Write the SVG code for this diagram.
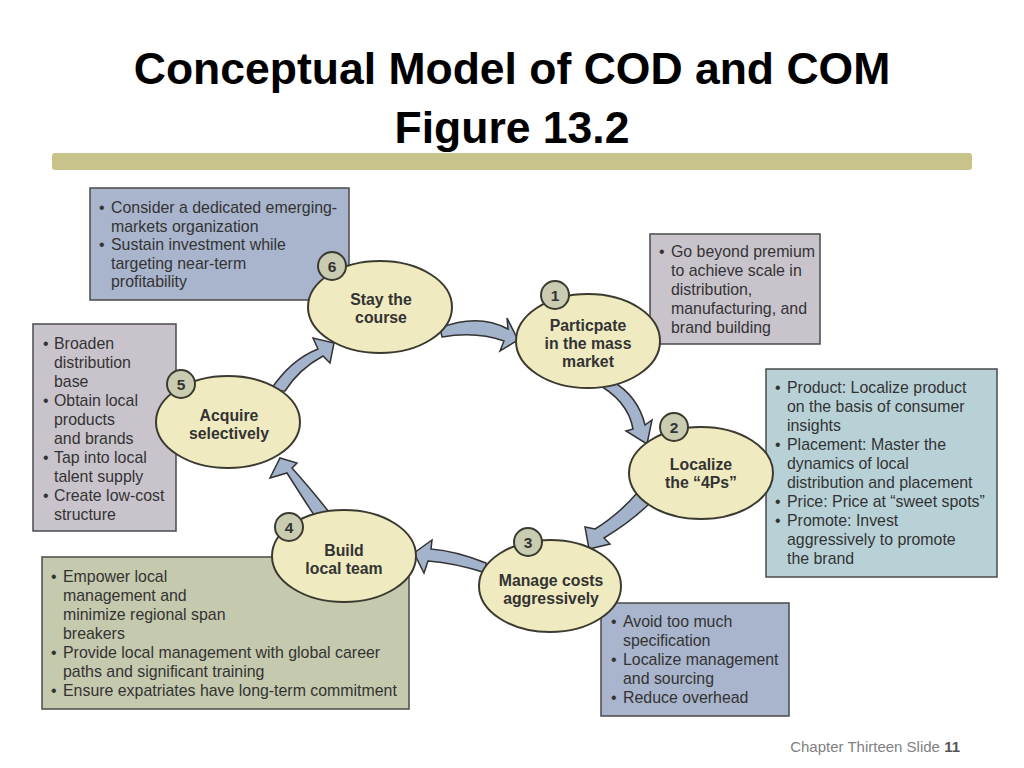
<svg xmlns="http://www.w3.org/2000/svg" width="1024" height="768" viewBox="0 0 1024 768">
<style>
.title{font-family:"Liberation Sans",Arial,sans-serif;font-weight:bold;font-size:44.5px;fill:#000;text-anchor:middle}
.box{stroke:#4a4a4a;stroke-width:1.5}
.b-blue{fill:#a9b5cc}
.b-mauve{fill:#c9c4cc}
.b-teal{fill:#b8d1d7}
.b-olive{fill:#c5c9ae}
.bt{font-family:"Liberation Sans",Arial,sans-serif;font-size:15.9px;fill:#333}
.ell{fill:#efeabf;stroke:#3a3a30;stroke-width:2}
.badge{fill:#c9ccb0;stroke:#3a3a30;stroke-width:2}
.num{font-family:"Liberation Sans",Arial,sans-serif;font-weight:bold;font-size:15.5px;fill:#333;text-anchor:middle}
.et{font-family:"Liberation Sans",Arial,sans-serif;font-weight:bold;font-size:15.8px;fill:#333;text-anchor:middle}
.arr{fill:#a3b3cc;stroke:#333;stroke-width:1.5;stroke-linejoin:miter}
.foot{font-family:"Liberation Sans",Arial,sans-serif;font-size:15px;fill:#7f7f7f}
</style>
<rect width="1024" height="768" fill="#fff"/>
<g id="title">
<text class="title" x="512" y="84">Conceptual Model of COD and COM</text>
<text class="title" x="512" y="143">Figure 13.2</text>
<rect x="52" y="153" width="920" height="17" rx="3" fill="#c7c38b"/>
</g>
<g id="connectors">
<path class="arr" d="M 440 328 Q 478 313 508 329 L 507 318 L 518 340 L 500 351 L 504 341 Q 476 331 442 337 Z"/>
<path class="arr" d="M 594 382 Q 628 400 633 429 L 626 431 L 647 444 L 652 420 L 645 425 Q 638 396 612 381 Z"/>
<path class="arr" d="M 638 492 Q 618 515 595 529 L 585 527 L 589 549 L 610 544 L 604 538 Q 632 521 651 502 Z"/>
<path class="arr" d="M 486 563 Q 456 551 431 549 L 432 540 L 414 553 L 424 573 L 428 561 Q 455 563 486 573 Z"/>
<path class="arr" d="M 314 515 Q 299 492 287 473 L 270 478 L 280 458 L 297 463 L 292 468 Q 310 488 329 512 Z"/>
<path class="arr" d="M 270 391 Q 290 360 318 349 L 313 338 L 334 343 L 330 363 L 323 356 Q 299 369 285 391 Z"/>
</g>
<g id="node6">
<rect class="box b-blue" x="90" y="188" width="259" height="112"/>
<text class="bt" x="99" y="213">•</text><text class="bt" x="111" y="213">Consider a dedicated emerging-</text>
<text class="bt" x="111" y="231.6">markets organization</text>
<text class="bt" x="99" y="250.2">•</text><text class="bt" x="111" y="250.2">Sustain investment while</text>
<text class="bt" x="111" y="268.8">targeting near-term</text>
<text class="bt" x="111" y="287.4">profitability</text>
<ellipse class="ell" cx="380" cy="307" rx="72" ry="46"/>
<circle class="badge" cx="332" cy="266" r="14"/>
<text class="num" x="332" y="271.5">6</text>
<text class="et" x="381" y="305">Stay the</text>
<text class="et" x="381" y="323">course</text>
</g>
<g id="node1">
<rect class="box b-mauve" x="650" y="234" width="170" height="110"/>
<text class="bt" x="659" y="257">•</text><text class="bt" x="671" y="257">Go beyond premium</text>
<text class="bt" x="671" y="276">to achieve scale in</text>
<text class="bt" x="671" y="295">distribution,</text>
<text class="bt" x="671" y="314">manufacturing, and</text>
<text class="bt" x="671" y="333">brand building</text>
<ellipse class="ell" cx="588" cy="341" rx="72" ry="47"/>
<circle class="badge" cx="555" cy="295" r="14"/>
<text class="num" x="555" y="300.5">1</text>
<text class="et" x="588" y="331">Particpate</text>
<text class="et" x="588" y="349">in the mass</text>
<text class="et" x="588" y="367">market</text>
</g>
<g id="node2">
<rect class="box b-teal" x="766" y="369" width="231" height="208"/>
<text class="bt" x="775" y="393">•</text><text class="bt" x="787" y="393">Product: Localize product</text>
<text class="bt" x="787" y="412">on the basis of consumer</text>
<text class="bt" x="787" y="431">insights</text>
<text class="bt" x="775" y="450">•</text><text class="bt" x="787" y="450">Placement: Master the</text>
<text class="bt" x="787" y="469">dynamics of local</text>
<text class="bt" x="787" y="488">distribution and placement</text>
<text class="bt" x="775" y="507">•</text><text class="bt" x="787" y="507">Price: Price at “sweet spots”</text>
<text class="bt" x="775" y="526">•</text><text class="bt" x="787" y="526">Promote: Invest</text>
<text class="bt" x="787" y="545">aggressively to promote</text>
<text class="bt" x="787" y="564">the brand</text>
<ellipse class="ell" cx="701" cy="473" rx="72" ry="46"/>
<circle class="badge" cx="674" cy="427" r="14"/>
<text class="num" x="674" y="432.5">2</text>
<text class="et" x="701" y="470">Localize</text>
<text class="et" x="701" y="488">the “4Ps”</text>
</g>
<g id="node3">
<rect class="box b-blue" x="601" y="603" width="188" height="113"/>
<text class="bt" x="611" y="627">•</text><text class="bt" x="623" y="627">Avoid too much</text>
<text class="bt" x="623" y="646">specification</text>
<text class="bt" x="611" y="665">•</text><text class="bt" x="623" y="665">Localize management</text>
<text class="bt" x="623" y="684">and sourcing</text>
<text class="bt" x="611" y="703">•</text><text class="bt" x="623" y="703">Reduce overhead</text>
<ellipse class="ell" cx="550" cy="586" rx="71" ry="46"/>
<circle class="badge" cx="528" cy="542" r="14"/>
<text class="num" x="528" y="547.5">3</text>
<text class="et" x="551" y="586">Manage costs</text>
<text class="et" x="551" y="604">aggressively</text>
</g>
<g id="node4">
<rect class="box b-olive" x="42" y="557" width="367" height="152"/>
<text class="bt" x="51" y="582">•</text><text class="bt" x="63" y="582">Empower local</text>
<text class="bt" x="63" y="601">management and</text>
<text class="bt" x="63" y="620">minimize regional span</text>
<text class="bt" x="63" y="639">breakers</text>
<text class="bt" x="51" y="658">•</text><text class="bt" x="63" y="658">Provide local management with global career</text>
<text class="bt" x="63" y="677">paths and significant training</text>
<text class="bt" x="51" y="696">•</text><text class="bt" x="63" y="696">Ensure expatriates have long-term commitment</text>
<ellipse class="ell" cx="344" cy="556" rx="72" ry="46"/>
<circle class="badge" cx="289" cy="527" r="14"/>
<text class="num" x="289" y="532.5">4</text>
<text class="et" x="344" y="556">Build</text>
<text class="et" x="344" y="574">local team</text>
</g>
<g id="node5">
<rect class="box b-mauve" x="33" y="324" width="143" height="207"/>
<text class="bt" x="43" y="349">•</text><text class="bt" x="54" y="349">Broaden</text>
<text class="bt" x="54" y="368">distribution</text>
<text class="bt" x="54" y="387">base</text>
<text class="bt" x="43" y="406">•</text><text class="bt" x="54" y="406">Obtain local</text>
<text class="bt" x="54" y="425">products</text>
<text class="bt" x="54" y="444">and brands</text>
<text class="bt" x="43" y="463">•</text><text class="bt" x="54" y="463">Tap into local</text>
<text class="bt" x="54" y="482">talent supply</text>
<text class="bt" x="43" y="501">•</text><text class="bt" x="54" y="501">Create low-cost</text>
<text class="bt" x="54" y="520">structure</text>
<ellipse class="ell" cx="228" cy="422" rx="72" ry="46"/>
<circle class="badge" cx="181" cy="384" r="14"/>
<text class="num" x="181" y="389.5">5</text>
<text class="et" x="229" y="421">Acquire</text>
<text class="et" x="229" y="439">selectively</text>
</g>
<g id="footer">
<text class="foot" x="960" y="752" text-anchor="end">Chapter Thirteen Slide <tspan font-weight="bold" fill="#555">11</tspan></text>
</g>
</svg>
